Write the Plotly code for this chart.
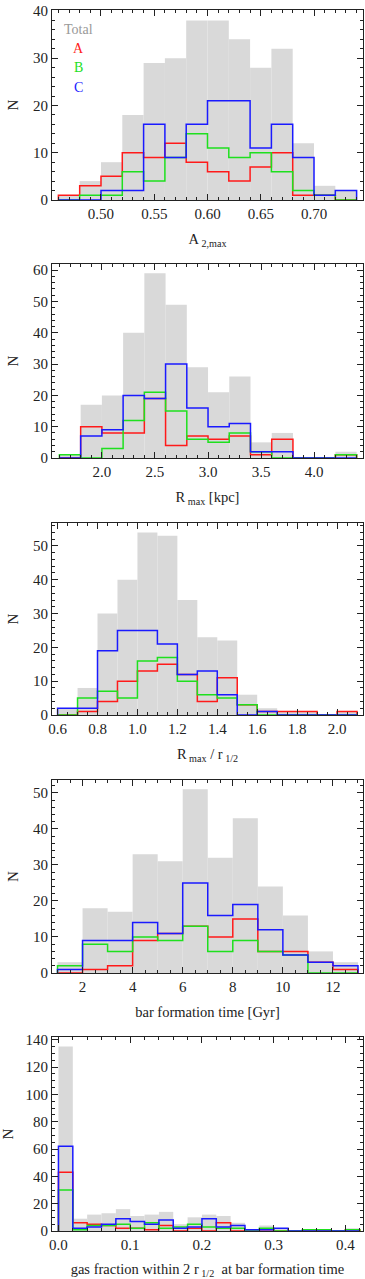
import numpy as np
import plotly.graph_objects as go

# Panel 1: A_2,max
a2_edges = np.round(np.arange(0.46, 0.7401, 0.02), 2)
a2_total = [1, 4, 8, 18, 29, 30, 38, 38, 34, 28, 32, 12, 3, 2]
a2_A = [1, 3, 5, 10, 9, 12, 8, 6, 4, 7, 10, 1, 1, 0]
a2_B = [0, 1, 1, 6, 4, 9, 14, 11, 9, 10, 6, 2, 1, 0]
a2_C = [0, 0, 2, 2, 16, 9, 16, 21, 21, 11, 16, 9, 1, 2]

# Panel 2: R_max [kpc]
rmax_edges = np.round(np.arange(1.6, 4.401, 0.2), 1)
rmax_total = [1, 17, 20, 40, 59, 49, 29, 21, 26, 5, 8, 0, 0, 2]
rmax_A = [0, 10, 8, 8, 19, 4, 7, 6, 7, 1, 6, 0, 0, 1]
rmax_B = [1, 0, 3, 12, 21, 15, 6, 5, 8, 2, 0, 0, 0, 1]
rmax_C = [0, 7, 9, 20, 19, 30, 16, 10, 11, 2, 2, 0, 0, 0]

# Panel 3: R_max / r_1/2
ratio_edges = np.round(np.arange(0.6, 2.101, 0.1), 1)
ratio_total = [2, 8, 30, 40, 54, 53, 34, 23, 22, 6, 2, 1, 1, 0, 1]
ratio_A = [0, 1, 4, 10, 13, 15, 12, 4, 11, 3, 1, 1, 1, 0, 1]
ratio_B = [0, 5, 7, 5, 16, 17, 10, 6, 5, 3, 0, 0, 0, 0, 0]
ratio_C = [2, 2, 19, 25, 25, 21, 12, 13, 6, 0, 1, 0, 0, 0, 0]

# Panel 4: bar formation time [Gyr]
tbar_edges = np.arange(1, 14, 1)
tbar_total = [3, 18, 17, 33, 31, 51, 32, 43, 24, 16, 6, 3]
tbar_A = [0, 1, 2, 9, 11, 13, 10, 15, 6, 6, 3, 1]
tbar_B = [2, 8, 6, 10, 9, 13, 6, 9, 6, 5, 0, 0]
tbar_C = [1, 9, 9, 14, 11, 25, 16, 19, 12, 5, 3, 2]

# Panel 5: gas fraction
gas_edges = np.round(np.arange(0.0, 0.4201, 0.02), 2)
gas_total = [135, 9, 12, 13, 16, 11, 12, 14, 5, 10, 12, 11, 6, 1, 4, 2, 0, 1, 1, 0, 2]
gas_A = [43, 6, 5, 4, 2, 2, 1, 4, 0, 2, 0, 6, 0, 0, 1, 0, 0, 0, 0, 0, 1]
gas_B = [30, 1, 4, 4, 5, 2, 6, 2, 3, 5, 3, 2, 2, 0, 2, 0, 0, 1, 1, 0, 1]
gas_C = [62, 2, 3, 5, 9, 7, 5, 8, 2, 3, 9, 3, 4, 1, 1, 2, 0, 0, 0, 0, 0]

GREY = "#d9d9d9"
COLORS = {"A": "#ff1a1a", "B": "#1ee01e", "C": "#1a1aff"}
FONT = "Liberation Serif, Times New Roman, serif"
INK = "#222"

panels = [
    dict(edges=a2_edges, total=a2_total, A=a2_A, B=a2_B, C=a2_C,
         xrange=[0.454, 0.746], yrange=[0, 40.2], xdtick=0.05, xminor=0.01,
         ydtick=10, yminor=2, fmt=".2f", domain=[0.8444, 1.0],
         title="A<sub> 2,max</sub>"),
    dict(edges=rmax_edges, total=rmax_total, A=rmax_A, B=rmax_B, C=rmax_C,
         xrange=[1.53, 4.46], yrange=[0, 62], xdtick=0.5, xminor=0.1,
         ydtick=10, yminor=2, fmt=".1f", domain=[0.6331, 0.792],
         title="R<sub> max</sub> [kpc]"),
    dict(edges=ratio_edges, total=ratio_total, A=ratio_A, B=ratio_B, C=ratio_C,
         xrange=[0.572, 2.13], yrange=[0, 56.8], xdtick=0.2, xminor=0.05,
         ydtick=10, yminor=2, fmt=".1f", domain=[0.4226, 0.5799],
         title="R<sub> max</sub> / r<sub> 1/2</sub>"),
    dict(edges=tbar_edges, total=tbar_total, A=tbar_A, B=tbar_B, C=tbar_C,
         xrange=[0.78, 13.2], yrange=[0, 53.6], xdtick=2, xminor=0.5,
         ydtick=10, yminor=2, fmt="d", domain=[0.2113, 0.3694],
         title="bar formation time [Gyr]"),
    dict(edges=gas_edges, total=gas_total, A=gas_A, B=gas_B, C=gas_C,
         xrange=[-0.009, 0.4245], yrange=[0, 142], xdtick=0.1, xminor=0.02,
         ydtick=20, yminor=5, fmt=".1f", domain=[0.0, 0.1589],
         title="gas fraction within 2 r<sub> 1/2</sub>  at bar formation time"),
]


def step_xy(edges, counts):
    """Outline of a histogram as an hv step line closed to zero at both ends."""
    x = np.concatenate([[edges[0]], edges])
    y = np.concatenate([[0], counts, [0]])
    return x, y


fig = go.Figure()
layout = {}

for i, p in enumerate(panels, start=1):
    xa = "x" if i == 1 else f"x{i}"
    ya = "y" if i == 1 else f"y{i}"
    edges = np.asarray(p["edges"], dtype=float)
    width = edges[1] - edges[0]

    fig.add_trace(go.Bar(
        x=edges[:-1], y=p["total"], width=width, offset=0,
        marker=dict(color=GREY, line=dict(width=0)),
        xaxis=xa, yaxis=ya, showlegend=False,
    ))
    for key in ("A", "B", "C"):
        sx, sy = step_xy(edges, p[key])
        fig.add_trace(go.Scatter(
            x=sx, y=sy, mode="lines", line=dict(color=COLORS[key], width=1.5, shape="hv"),
            xaxis=xa, yaxis=ya, showlegend=False, hoverinfo="skip",
        ))

    axis_common = dict(
        showline=True, linecolor=INK, linewidth=1, mirror="allticks",
        ticks="inside", ticklen=6, tickcolor=INK, showgrid=False, zeroline=False,
        tickfont=dict(family=FONT, size=15, color=INK), automargin=False,
    )
    layout["xaxis" if i == 1 else f"xaxis{i}"] = dict(
        axis_common, range=p["xrange"], dtick=p["xdtick"], tick0=0,
        tickformat=p["fmt"], anchor=ya,
        minor=dict(ticks="inside", ticklen=3, dtick=p["xminor"], tick0=0, tickcolor=INK),
        title=dict(text=p["title"], font=dict(family=FONT, size=14.5, color=INK), standoff=12),
    )
    layout["yaxis" if i == 1 else f"yaxis{i}"] = dict(
        axis_common, range=p["yrange"], dtick=p["ydtick"], domain=p["domain"],
        anchor=xa,
        minor=dict(ticks="inside", ticklen=3, dtick=p["yminor"], tick0=0, tickcolor=INK),
        title=dict(text="N", font=dict(family=FONT, size=15, color=INK), standoff=10),
    )

legend_items = [("Total", "#999999", 36.1), ("A", COLORS["A"], 32.0),
                ("B", COLORS["B"], 28.0), ("C", COLORS["C"], 23.9)]
annotations = [
    dict(text=t, x=0.479, y=yy, xref="x", yref="y", showarrow=False,
         font=dict(family=FONT, size=14, color=c))
    for t, c, yy in legend_items
]

fig.update_layout(
    **layout,
    annotations=annotations,
    width=365, height=1279,
    margin=dict(l=52, r=2, t=10, b=48),
    paper_bgcolor="white", plot_bgcolor="white",
    barmode="overlay", showlegend=False,
)

# the page's default body margin would shift the figure by 8 px
fig.write_html("out.html", config={"displayModeBar": False},
               post_script="document.body.style.margin='0';")
